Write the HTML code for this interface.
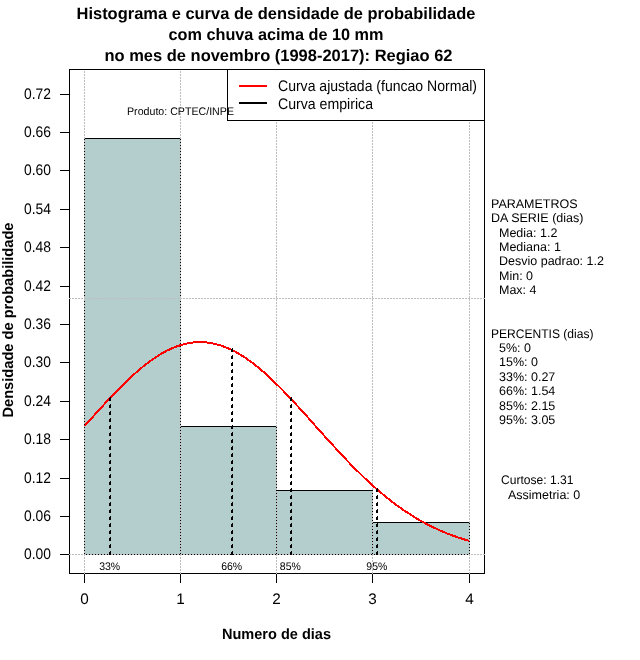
<!DOCTYPE html>
<html><head><meta charset="utf-8"><title>Histograma</title>
<style>
html,body{margin:0;padding:0;background:#fff;}
svg{display:block;text-rendering:geometricPrecision;font-family:"Liberation Sans",Arial,Helvetica,sans-serif;fill:#000;}
.c{shape-rendering:crispEdges;}
.t{font-weight:bold;font-size:16.5px;}
.a{font-size:15.3px;}
.s{font-size:12.5px;}
.p{font-size:11px;}
.ax{font-weight:bold;font-size:15px;}
</style></head><body>
<svg width="640" height="660" viewBox="0 0 640 660">
<rect x="0" y="0" width="640" height="660" fill="#fff"/>

<text class="t" x="76.5" y="19" textLength="399" lengthAdjust="spacingAndGlyphs">Histograma e curva de densidade de probabilidade</text>
<text class="t" x="168.5" y="40" textLength="215" lengthAdjust="spacingAndGlyphs">com chuva acima de 10 mm</text>
<text class="t" x="104.5" y="61" textLength="348" lengthAdjust="spacingAndGlyphs">no mes de novembro (1998-2017): Regiao 62</text>
<g class="c">
<rect x="84.5" y="138.5" width="96" height="416" fill="#b4cdcd" stroke="#000" stroke-width="1"/>
<rect x="180.5" y="426.5" width="96" height="128" fill="#b4cdcd" stroke="#000" stroke-width="1"/>
<rect x="276.5" y="490.5" width="96" height="64" fill="#b4cdcd" stroke="#000" stroke-width="1"/>
<rect x="372.5" y="522.5" width="97" height="32" fill="#b4cdcd" stroke="#000" stroke-width="1"/>
</g>
<g class="c" stroke="#000" stroke-width="1" fill="none">
<rect x="69.5" y="69.5" width="415" height="504"/>
<line x1="60" y1="554.5" x2="69" y2="554.5"/>
<line x1="60" y1="516.5" x2="69" y2="516.5"/>
<line x1="60" y1="478.5" x2="69" y2="478.5"/>
<line x1="60" y1="439.5" x2="69" y2="439.5"/>
<line x1="60" y1="401.5" x2="69" y2="401.5"/>
<line x1="60" y1="362.5" x2="69" y2="362.5"/>
<line x1="60" y1="324.5" x2="69" y2="324.5"/>
<line x1="60" y1="286.5" x2="69" y2="286.5"/>
<line x1="60" y1="247.5" x2="69" y2="247.5"/>
<line x1="60" y1="209.5" x2="69" y2="209.5"/>
<line x1="60" y1="170.5" x2="69" y2="170.5"/>
<line x1="60" y1="132.5" x2="69" y2="132.5"/>
<line x1="60" y1="94.5" x2="69" y2="94.5"/>
<line x1="84.5" y1="573" x2="84.5" y2="583"/>
<line x1="180.5" y1="573" x2="180.5" y2="583"/>
<line x1="276.5" y1="573" x2="276.5" y2="583"/>
<line x1="372.5" y1="573" x2="372.5" y2="583"/>
<line x1="469.5" y1="573" x2="469.5" y2="583"/>
</g>
<g class="c" stroke="#bebebe" stroke-width="1" stroke-dasharray="2 1">
<line x1="84.5" y1="71" x2="84.5" y2="574"/>
<line x1="180.5" y1="71" x2="180.5" y2="574"/>
<line x1="276.5" y1="71" x2="276.5" y2="574"/>
<line x1="372.5" y1="71" x2="372.5" y2="574"/>
<line x1="469.5" y1="71" x2="469.5" y2="574"/>
<line x1="69" y1="298.5" x2="485" y2="298.5"/>
<line x1="69" y1="554.5" x2="485" y2="554.5"/>
</g>
<polyline class="c" points="84.8,425.8 88.6,421.5 92.5,417.2 96.3,412.9 100.2,408.7 104.0,404.5 107.9,400.3 111.7,396.3 115.5,392.2 119.4,388.3 123.2,384.5 127.1,380.7 130.9,377.1 134.8,373.6 138.6,370.3 142.4,367.1 146.3,364.0 150.1,361.1 154.0,358.4 157.8,355.9 161.6,353.6 165.5,351.4 169.3,349.5 173.2,347.8 177.0,346.3 180.9,345.0 184.7,344.0 188.5,343.1 192.4,342.6 196.2,342.2 200.1,342.1 203.9,342.2 207.8,342.6 211.6,343.1 215.4,344.0 219.3,345.0 223.1,346.3 227.0,347.8 230.8,349.5 234.7,351.4 238.5,353.6 242.3,355.9 246.2,358.4 250.0,361.1 253.9,364.0 257.7,367.1 261.6,370.3 265.4,373.6 269.2,377.1 273.1,380.7 276.9,384.5 280.8,388.3 284.6,392.2 288.4,396.3 292.3,400.3 296.1,404.5 300.0,408.7 303.8,412.9 307.7,417.2 311.5,421.5 315.3,425.8 319.2,430.1 323.0,434.4 326.9,438.7 330.7,442.9 334.6,447.1 338.4,451.3 342.2,455.4 346.1,459.5 349.9,463.5 353.8,467.4 357.6,471.2 361.5,475.0 365.3,478.7 369.1,482.3 373.0,485.8 376.8,489.2 380.7,492.5 384.5,495.7 388.3,498.8 392.2,501.8 396.0,504.7 399.9,507.5 403.7,510.2 407.6,512.7 411.4,515.2 415.2,517.6 419.1,519.9 422.9,522.0 426.8,524.1 430.6,526.1 434.5,527.9 438.3,529.7 442.1,531.4 446.0,533.0 449.8,534.5 453.7,535.9 457.5,537.3 461.4,538.5 465.2,539.7 469.0,540.9" fill="none" stroke="#ff0000" stroke-width="2" stroke-linejoin="round"/>
<g class="c" fill="#000">
<rect x="109" y="552" width="2" height="3"/>
<rect x="110" y="551" width="1" height="1"/>
<rect x="109" y="545" width="2" height="3"/>
<rect x="110" y="544" width="1" height="1"/>
<rect x="109" y="538" width="2" height="3"/>
<rect x="110" y="537" width="1" height="1"/>
<rect x="109" y="531" width="2" height="3"/>
<rect x="110" y="530" width="1" height="1"/>
<rect x="109" y="524" width="2" height="3"/>
<rect x="110" y="523" width="1" height="1"/>
<rect x="109" y="517" width="2" height="3"/>
<rect x="110" y="516" width="1" height="1"/>
<rect x="109" y="510" width="2" height="3"/>
<rect x="110" y="509" width="1" height="1"/>
<rect x="109" y="503" width="2" height="3"/>
<rect x="110" y="502" width="1" height="1"/>
<rect x="109" y="496" width="2" height="3"/>
<rect x="110" y="495" width="1" height="1"/>
<rect x="109" y="489" width="2" height="3"/>
<rect x="110" y="488" width="1" height="1"/>
<rect x="109" y="482" width="2" height="3"/>
<rect x="110" y="481" width="1" height="1"/>
<rect x="109" y="475" width="2" height="3"/>
<rect x="110" y="474" width="1" height="1"/>
<rect x="109" y="468" width="2" height="3"/>
<rect x="110" y="467" width="1" height="1"/>
<rect x="109" y="461" width="2" height="3"/>
<rect x="110" y="460" width="1" height="1"/>
<rect x="109" y="454" width="2" height="3"/>
<rect x="110" y="453" width="1" height="1"/>
<rect x="109" y="447" width="2" height="3"/>
<rect x="110" y="446" width="1" height="1"/>
<rect x="109" y="440" width="2" height="3"/>
<rect x="110" y="439" width="1" height="1"/>
<rect x="109" y="433" width="2" height="3"/>
<rect x="110" y="432" width="1" height="1"/>
<rect x="109" y="426" width="2" height="3"/>
<rect x="110" y="425" width="1" height="1"/>
<rect x="109" y="419" width="2" height="3"/>
<rect x="110" y="418" width="1" height="1"/>
<rect x="109" y="412" width="2" height="3"/>
<rect x="110" y="411" width="1" height="1"/>
<rect x="109" y="405" width="2" height="3"/>
<rect x="110" y="404" width="1" height="1"/>
<rect x="109" y="398" width="2" height="3"/>
<rect x="110" y="397" width="1" height="1"/>
<rect x="231" y="552" width="2" height="3"/>
<rect x="232" y="551" width="1" height="1"/>
<rect x="231" y="545" width="2" height="3"/>
<rect x="232" y="544" width="1" height="1"/>
<rect x="231" y="538" width="2" height="3"/>
<rect x="232" y="537" width="1" height="1"/>
<rect x="231" y="531" width="2" height="3"/>
<rect x="232" y="530" width="1" height="1"/>
<rect x="231" y="524" width="2" height="3"/>
<rect x="232" y="523" width="1" height="1"/>
<rect x="231" y="517" width="2" height="3"/>
<rect x="232" y="516" width="1" height="1"/>
<rect x="231" y="510" width="2" height="3"/>
<rect x="232" y="509" width="1" height="1"/>
<rect x="231" y="503" width="2" height="3"/>
<rect x="232" y="502" width="1" height="1"/>
<rect x="231" y="496" width="2" height="3"/>
<rect x="232" y="495" width="1" height="1"/>
<rect x="231" y="489" width="2" height="3"/>
<rect x="232" y="488" width="1" height="1"/>
<rect x="231" y="482" width="2" height="3"/>
<rect x="232" y="481" width="1" height="1"/>
<rect x="231" y="475" width="2" height="3"/>
<rect x="232" y="474" width="1" height="1"/>
<rect x="231" y="468" width="2" height="3"/>
<rect x="232" y="467" width="1" height="1"/>
<rect x="231" y="461" width="2" height="3"/>
<rect x="232" y="460" width="1" height="1"/>
<rect x="231" y="454" width="2" height="3"/>
<rect x="232" y="453" width="1" height="1"/>
<rect x="231" y="447" width="2" height="3"/>
<rect x="232" y="446" width="1" height="1"/>
<rect x="231" y="440" width="2" height="3"/>
<rect x="232" y="439" width="1" height="1"/>
<rect x="231" y="433" width="2" height="3"/>
<rect x="232" y="432" width="1" height="1"/>
<rect x="231" y="426" width="2" height="3"/>
<rect x="232" y="425" width="1" height="1"/>
<rect x="231" y="419" width="2" height="3"/>
<rect x="232" y="418" width="1" height="1"/>
<rect x="231" y="412" width="2" height="3"/>
<rect x="232" y="411" width="1" height="1"/>
<rect x="231" y="405" width="2" height="3"/>
<rect x="232" y="404" width="1" height="1"/>
<rect x="231" y="398" width="2" height="3"/>
<rect x="232" y="397" width="1" height="1"/>
<rect x="231" y="391" width="2" height="3"/>
<rect x="232" y="390" width="1" height="1"/>
<rect x="231" y="384" width="2" height="3"/>
<rect x="232" y="383" width="1" height="1"/>
<rect x="231" y="377" width="2" height="3"/>
<rect x="232" y="376" width="1" height="1"/>
<rect x="231" y="370" width="2" height="3"/>
<rect x="232" y="369" width="1" height="1"/>
<rect x="231" y="363" width="2" height="3"/>
<rect x="232" y="362" width="1" height="1"/>
<rect x="231" y="356" width="2" height="3"/>
<rect x="232" y="355" width="1" height="1"/>
<rect x="231" y="349" width="2" height="3"/>
<rect x="232" y="348" width="1" height="1"/>
<rect x="290" y="552" width="2" height="3"/>
<rect x="291" y="551" width="1" height="1"/>
<rect x="290" y="545" width="2" height="3"/>
<rect x="291" y="544" width="1" height="1"/>
<rect x="290" y="538" width="2" height="3"/>
<rect x="291" y="537" width="1" height="1"/>
<rect x="290" y="531" width="2" height="3"/>
<rect x="291" y="530" width="1" height="1"/>
<rect x="290" y="524" width="2" height="3"/>
<rect x="291" y="523" width="1" height="1"/>
<rect x="290" y="517" width="2" height="3"/>
<rect x="291" y="516" width="1" height="1"/>
<rect x="290" y="510" width="2" height="3"/>
<rect x="291" y="509" width="1" height="1"/>
<rect x="290" y="503" width="2" height="3"/>
<rect x="291" y="502" width="1" height="1"/>
<rect x="290" y="496" width="2" height="3"/>
<rect x="291" y="495" width="1" height="1"/>
<rect x="290" y="489" width="2" height="3"/>
<rect x="291" y="488" width="1" height="1"/>
<rect x="290" y="482" width="2" height="3"/>
<rect x="291" y="481" width="1" height="1"/>
<rect x="290" y="475" width="2" height="3"/>
<rect x="291" y="474" width="1" height="1"/>
<rect x="290" y="468" width="2" height="3"/>
<rect x="291" y="467" width="1" height="1"/>
<rect x="290" y="461" width="2" height="3"/>
<rect x="291" y="460" width="1" height="1"/>
<rect x="290" y="454" width="2" height="3"/>
<rect x="291" y="453" width="1" height="1"/>
<rect x="290" y="447" width="2" height="3"/>
<rect x="291" y="446" width="1" height="1"/>
<rect x="290" y="440" width="2" height="3"/>
<rect x="291" y="439" width="1" height="1"/>
<rect x="290" y="433" width="2" height="3"/>
<rect x="291" y="432" width="1" height="1"/>
<rect x="290" y="426" width="2" height="3"/>
<rect x="291" y="425" width="1" height="1"/>
<rect x="290" y="419" width="2" height="3"/>
<rect x="291" y="418" width="1" height="1"/>
<rect x="290" y="412" width="2" height="3"/>
<rect x="291" y="411" width="1" height="1"/>
<rect x="290" y="405" width="2" height="3"/>
<rect x="291" y="404" width="1" height="1"/>
<rect x="290" y="398" width="2" height="3"/>
<rect x="291" y="397" width="1" height="1"/>
<rect x="376" y="552" width="2" height="3"/>
<rect x="377" y="551" width="1" height="1"/>
<rect x="376" y="545" width="2" height="3"/>
<rect x="377" y="544" width="1" height="1"/>
<rect x="376" y="538" width="2" height="3"/>
<rect x="377" y="537" width="1" height="1"/>
<rect x="376" y="531" width="2" height="3"/>
<rect x="377" y="530" width="1" height="1"/>
<rect x="376" y="524" width="2" height="3"/>
<rect x="377" y="523" width="1" height="1"/>
<rect x="376" y="517" width="2" height="3"/>
<rect x="377" y="516" width="1" height="1"/>
<rect x="376" y="510" width="2" height="3"/>
<rect x="377" y="509" width="1" height="1"/>
<rect x="376" y="503" width="2" height="3"/>
<rect x="377" y="502" width="1" height="1"/>
<rect x="376" y="496" width="2" height="3"/>
<rect x="377" y="495" width="1" height="1"/>
<rect x="376" y="489" width="2" height="3"/>
<rect x="377" y="488" width="1" height="1"/>
</g>
<g class="c"><rect x="227.5" y="69.5" width="257" height="51" fill="#fff" stroke="#000"/>
<rect x="239" y="85" width="28" height="2" fill="#ff0000"/>
<rect x="239" y="102" width="28" height="2" fill="#000"/></g>
<text class="a" x="278" y="91" textLength="199" lengthAdjust="spacingAndGlyphs">Curva ajustada (funcao Normal)</text>
<text class="a" x="278" y="109" textLength="95" lengthAdjust="spacingAndGlyphs">Curva empirica</text>
<text class="a" x="51" y="559" textLength="27" lengthAdjust="spacingAndGlyphs" text-anchor="end">0.00</text>
<text class="a" x="51" y="521" textLength="27" lengthAdjust="spacingAndGlyphs" text-anchor="end">0.06</text>
<text class="a" x="51" y="483" textLength="27" lengthAdjust="spacingAndGlyphs" text-anchor="end">0.12</text>
<text class="a" x="51" y="444" textLength="27" lengthAdjust="spacingAndGlyphs" text-anchor="end">0.18</text>
<text class="a" x="51" y="406" textLength="27" lengthAdjust="spacingAndGlyphs" text-anchor="end">0.24</text>
<text class="a" x="51" y="367" textLength="27" lengthAdjust="spacingAndGlyphs" text-anchor="end">0.30</text>
<text class="a" x="51" y="329" textLength="27" lengthAdjust="spacingAndGlyphs" text-anchor="end">0.36</text>
<text class="a" x="51" y="291" textLength="27" lengthAdjust="spacingAndGlyphs" text-anchor="end">0.42</text>
<text class="a" x="51" y="252" textLength="27" lengthAdjust="spacingAndGlyphs" text-anchor="end">0.48</text>
<text class="a" x="51" y="214" textLength="27" lengthAdjust="spacingAndGlyphs" text-anchor="end">0.54</text>
<text class="a" x="51" y="175" textLength="27" lengthAdjust="spacingAndGlyphs" text-anchor="end">0.60</text>
<text class="a" x="51" y="137" textLength="27" lengthAdjust="spacingAndGlyphs" text-anchor="end">0.66</text>
<text class="a" x="51" y="99" textLength="27" lengthAdjust="spacingAndGlyphs" text-anchor="end">0.72</text>
<text class="a" x="84.5" y="604" text-anchor="middle">0</text>
<text class="a" x="180.5" y="604" text-anchor="middle">1</text>
<text class="a" x="276.5" y="604" text-anchor="middle">2</text>
<text class="a" x="372.5" y="604" text-anchor="middle">3</text>
<text class="a" x="469.5" y="604" text-anchor="middle">4</text>
<text class="ax" x="222" y="639" textLength="109" lengthAdjust="spacingAndGlyphs">Numero de dias</text>
<text class="ax" transform="translate(13,417.5) rotate(-90)" textLength="195" lengthAdjust="spacingAndGlyphs">Densidade de probabilidade</text>
<text class="p" x="127" y="115" textLength="107" lengthAdjust="spacingAndGlyphs">Produto: CPTEC/INPE</text>
<text class="p" x="99.2" y="570" textLength="21" lengthAdjust="spacingAndGlyphs">33%</text>
<text class="p" x="221.2" y="570" textLength="21" lengthAdjust="spacingAndGlyphs">66%</text>
<text class="p" x="279.8" y="570" textLength="21" lengthAdjust="spacingAndGlyphs">85%</text>
<text class="p" x="366.3" y="570" textLength="21" lengthAdjust="spacingAndGlyphs">95%</text>
<text class="s" x="491" y="208">PARAMETROS</text>
<text class="s" x="491" y="222">DA SERIE (dias)</text>
<text class="s" x="499" y="237">Media: 1.2</text>
<text class="s" x="499" y="251">Mediana: 1</text>
<text class="s" x="499" y="265">Desvio padrao: 1.2</text>
<text class="s" x="499" y="280">Min: 0</text>
<text class="s" x="499" y="294">Max: 4</text>
<text class="s" x="491" y="338" textLength="102.5" lengthAdjust="spacingAndGlyphs">PERCENTIS (dias)</text>
<text class="s" x="499" y="352">5%: 0</text>
<text class="s" x="499" y="366">15%: 0</text>
<text class="s" x="499" y="381">33%: 0.27</text>
<text class="s" x="499" y="395">66%: 1.54</text>
<text class="s" x="499" y="410">85%: 2.15</text>
<text class="s" x="499" y="424">95%: 3.05</text>
<text class="s" x="501" y="484" textLength="72.5" lengthAdjust="spacingAndGlyphs">Curtose: 1.31</text>
<text class="s" x="508" y="499">Assimetria: 0</text>
</svg></body></html>
